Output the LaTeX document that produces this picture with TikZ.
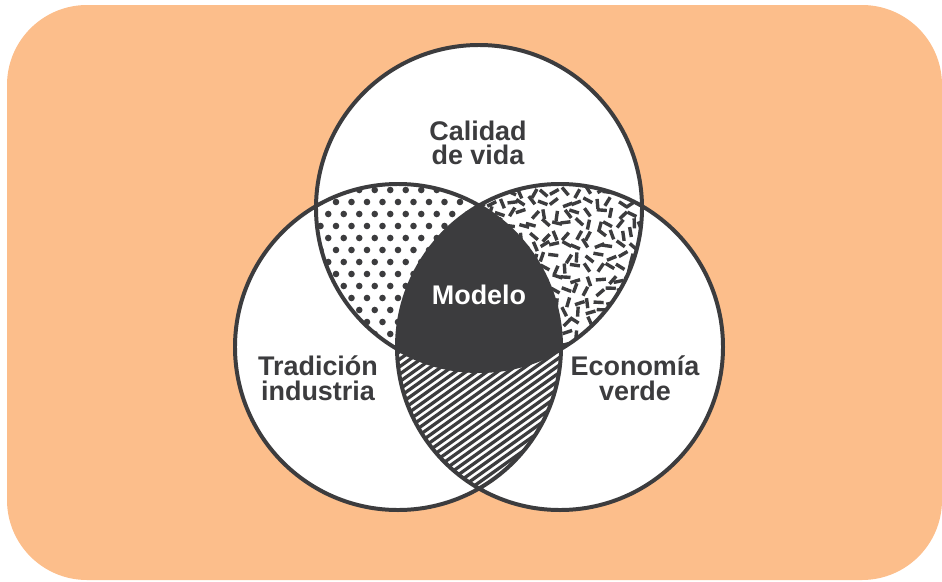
\documentclass[tikz,border=0pt]{standalone}
\usepackage{fontspec}
\newfontfamily\labelfont{Liberation Sans}
\definecolor{ink}{HTML}{3C3C3E}
\definecolor{peach}{HTML}{FCBE8B}
\newcommand{\rad}{4.89cm}

\begin{document}
\begin{tikzpicture}
[x=0.03cm,y=-0.03cm,
  ring/.style={draw=ink,line width=3.4pt},
  lbl/.style={text=ink,font=\labelfont\bfseries\fontsize{23}{21}\selectfont,align=center},
  grain/.style={ink,line width=2.9pt},
  hatch/.style={ink,line width=2.8pt}]
\useasboundingbox (0,0) rectangle (942,581);
\fill[peach,rounded corners=2.4cm] (7,5) rectangle (942,580);
\coordinate (ctop) at (479,208); \coordinate (cleft) at (398,347);
\coordinate (cright) at (560,347);
\fill[white] (ctop) circle[radius=\rad] (cleft) circle[radius=\rad]
(cright) circle[radius=\rad];
% dots: top and left
\begin{scope}
  \clip (ctop) circle[radius=\rad]; \clip (cleft) circle[radius=\rad];
  \foreach \row in {0,...,17} \foreach \col in {0,...,13}
  { \fill[ink] ({305+\col*15.5+mod(\row,2)*7.75},{178+\row*12}) circle[radius=2.8pt]; }
\end{scope}
% grains: top and right
\begin{scope}
  \clip (ctop) circle[radius=\rad]; \clip (cright) circle[radius=\rad];
  \pgfmathsetseed{4711}
  \foreach \gx in {0,...,15} \foreach \gy in {0,...,16}
  { \pgfmathsetmacro\px{478+\gx*11+rand*3}
    \pgfmathsetmacro\py{180+\gy*11+rand*3}
    \pgfmathsetmacro\ang{rnd*180}
    \draw[grain] (\px,\py) ++(\ang:-4.3pt) -- ++(\ang:8.6pt); }
\end{scope}
% hatching: left and right
\begin{scope}
  \clip (cleft) circle[radius=\rad]; \clip (cright) circle[radius=\rad];
  \foreach \k in {0,...,40}
  { \draw[hatch] ({150+\k*10.5},530) -- ++(280,-200); }
\end{scope}
% center
\begin{scope}
  \clip (ctop) circle[radius=\rad]; \clip (cleft) circle[radius=\rad];
  \fill[ink] (cright) circle[radius=\rad];
\end{scope}
\draw[ring] (ctop) circle[radius=\rad] (cleft) circle[radius=\rad]
(cright) circle[radius=\rad];
\node[lbl] (vida) at (478,143) {Calidad\\de vida};
\node[lbl] (trad) at (318,378) {Tradición\\industria};
\node[lbl] (eco) at (635,378) {Economía\\verde};
\node[lbl,text=white] (modelo) at (479,295) {Modelo};
\end{tikzpicture}
\end{document}
